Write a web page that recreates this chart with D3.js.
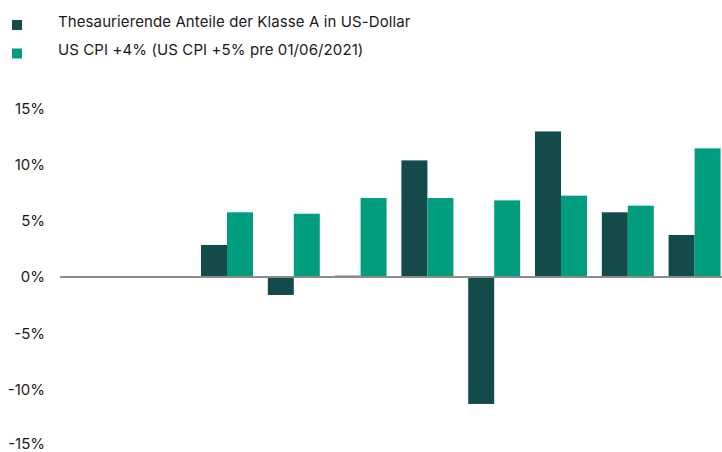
<!DOCTYPE html>
<html lang="de">
<head>
  <meta charset="UTF-8">
  <title>Wertentwicklung</title>
  <script src="https://d3js.org/d3.v7.min.js"></script>
  <style>
    body { margin: 0; background: #fff; }
    svg { display: block; font-family: Inter, "Noto Sans", sans-serif; }
    .tick-label { font-size: 15px; fill: #1a1a1a; }
    .legend-label { font-size: 15px; fill: #1a1a1a; letter-spacing: 0.1px; }
  </style>
</head>
<body>
  <div id="chart"></div>

  <script>
    // Zeiträume (ohne Beschriftung im Original; die ersten zwei ohne Daten)
    const periods = ["P1", "P2", "P3", "P4", "P5", "P6", "P7", "P8", "P9", "P10"];
    const seriesNames = [
      "Thesaurierende Anteile der Klasse A in US-Dollar",
      "US CPI +4% (US CPI +5% pre 01/06/2021)"
    ];
    const fundValues = [null, null, 2.85, -1.6, 0.12, 10.38, -11.3, 12.96, 5.76, 3.74];
    const cpiValues = [null, null, 5.76, 5.63, 7.03, 7.03, 6.82, 7.24, 6.35, 11.45];
    const yTicks = [15, 10, 5, 0, -5, -10, -15];
    const colors = ["#134a4a", "#009e7f"];

    const width = 722, height = 452;

    const svg = d3.select("#chart").append("svg")
      .attr("width", width)
      .attr("height", height);

    const x = d3.scaleBand()
      .domain(periods)
      .range([60, 728])
      .paddingInner(0.222)
      .paddingOuter(0.111);

    const xSub = d3.scaleBand()
      .domain([0, 1])
      .range([0, x.bandwidth()]);

    const y = d3.scaleLinear()
      .domain([-15, 15])
      .range([445.5, 108.5]);

    // y-Achse
    svg.append("g")
      .selectAll("text")
      .data(yTicks)
      .enter()
      .append("text")
      .attr("class", "tick-label")
      .attr("x", 45)
      .attr("y", d => Math.min(y(d), 444))
      .attr("dy", "0.36em")
      .attr("text-anchor", "end")
      .text(d => d + "%");

    const rows = periods.map((p, i) => ({ p, vals: [fundValues[i], cpiValues[i]] }));

    const groups = svg.append("g")
      .selectAll("g")
      .data(rows)
      .enter()
      .append("g")
      .attr("transform", d => `translate(${x(d.p)},0)`);

    groups.selectAll("rect")
      .data(d => d.vals.map((v, k) => ({ v, k })).filter(d => d.v !== null))
      .enter()
      .append("rect")
      .attr("x", d => xSub(d.k))
      .attr("width", xSub.bandwidth())
      .attr("y", d => y(Math.max(0, d.v)))
      .attr("height", d => Math.abs(y(d.v) - y(0)))
      .attr("fill", d => colors[d.k]);

    // Nulllinie
    svg.append("line")
      .attr("x1", 60)
      .attr("x2", width)
      .attr("y1", y(0))
      .attr("y2", y(0))
      .attr("stroke", "#8a8a8a")
      .attr("stroke-width", 2);

    // Legende
    const legend = svg.append("g")
      .selectAll("g")
      .data(seriesNames)
      .enter()
      .append("g")
      .attr("transform", (d, i) => `translate(12,${20 + i * 28.5})`);

    legend.append("rect")
      .attr("width", 10)
      .attr("height", 10)
      .attr("fill", (d, i) => colors[i]);

    legend.append("text")
      .attr("class", "legend-label")
      .attr("x", 46)
      .attr("y", 6.5)
      .text(d => d);
  </script>
</body>
</html>
